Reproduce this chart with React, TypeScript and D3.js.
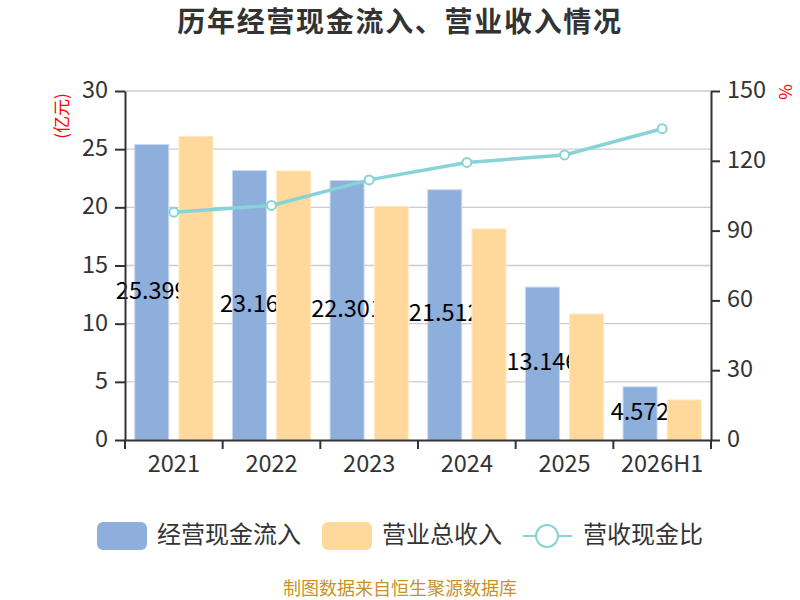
import { useEffect, useRef } from "react";
import * as d3 from "d3";

const years = ["2021", "2022", "2023", "2024", "2025", "2026H1"];
const cashInflow = [25.399, 23.16, 22.301, 21.512, 13.146, 4.572];
const cashLabels = ["25.399", "23.16", "22.301", "21.512", "13.146", "4.572"];
const revenue = [26.1, 23.12, 20.08, 18.15, 10.83, 3.44];
const ratio = [97.9, 100.8, 111.8, 119.3, 122.5, 133.8];
const leftTicks = [0, 5, 10, 15, 20, 25, 30];
const rightTicks = [0, 30, 60, 90, 120, 150];

const FONT = '"Noto Sans CJK SC", "Noto Sans", sans-serif';
const BLUE = "#8eaedb";
const ORANGE = "#ffd99b";
const TEAL = "#86d4d7";

export default function App() {
  const ref = useRef<SVGSVGElement | null>(null);

  useEffect(() => {
    const svg = d3.select(ref.current);
    svg.selectAll("*").remove(); // clear previous renders

    const width = 800;
    const left = 125;
    const right = 711;
    const top = 91;
    const bottom = 440;

    const x = d3.scaleBand().domain(years).range([left, right]).padding(0);
    const inner = d3
      .scaleBand()
      .domain(["cash", "rev"])
      .range([0, x.bandwidth()])
      .paddingInner(0.23)
      .paddingOuter(0.22);
    const y = d3.scaleLinear().domain([0, 30]).range([bottom, top]);
    const y2 = d3.scaleLinear().domain([0, 150]).range([bottom, top]);

    // title
    svg
      .append("text")
      .attr("x", width / 2)
      .attr("y", 24)
      .attr("text-anchor", "middle")
      .attr("dominant-baseline", "middle")
      .attr("font-size", 28)
      .attr("font-weight", "bold")
      .attr("letter-spacing", 1.7)
      .attr("fill", "#333")
      .text("历年经营现金流入、营业收入情况");

    // grid
    svg
      .append("g")
      .selectAll("line")
      .data(leftTicks.slice(1))
      .join("line")
      .attr("x1", left)
      .attr("x2", right)
      .attr("y1", (d) => y(d))
      .attr("y2", (d) => y(d))
      .attr("stroke", "#cccccc")
      .attr("stroke-width", 1.3);

    // blue bars + labels (labels sit under the orange bars)
    const cash = svg.append("g");
    cash
      .selectAll("rect")
      .data(cashInflow)
      .join("rect")
      .attr("x", (_, i) => x(years[i])! + inner("cash")!)
      .attr("y", (d) => y(d))
      .attr("width", inner.bandwidth())
      .attr("height", (d) => bottom - y(d))
      .attr("fill", BLUE)
      .attr("stroke", "#c9d8f0")
      .attr("stroke-width", 1);

    cash
      .selectAll("text")
      .data(cashInflow)
      .join("text")
      .attr("x", (_, i) => x(years[i])! + inner("cash")! + inner.bandwidth() / 2)
      .attr("y", (d) => (y(d) + bottom) / 2)
      .attr("text-anchor", "middle")
      .attr("dominant-baseline", "middle")
      .attr("font-size", 23.5)
      .attr("fill", "#000")
      .text((_, i) => cashLabels[i]);

    svg
      .append("g")
      .selectAll("rect")
      .data(revenue)
      .join("rect")
      .attr("x", (_, i) => x(years[i])! + inner("rev")!)
      .attr("y", (d) => y(d))
      .attr("width", inner.bandwidth())
      .attr("height", (d) => bottom - y(d))
      .attr("fill", ORANGE)
      .attr("stroke", "#ffe9c4")
      .attr("stroke-width", 1);

    // ratio line
    const cx = (i: number) => x(years[i])! + x.bandwidth() / 2;
    const line = d3
      .line<number>()
      .x((_, i) => cx(i))
      .y((d) => y2(d));
    svg
      .append("path")
      .datum(ratio)
      .attr("d", line)
      .attr("fill", "none")
      .attr("stroke", TEAL)
      .attr("stroke-width", 3.5);
    svg
      .append("g")
      .selectAll("circle")
      .data(ratio)
      .join("circle")
      .attr("cx", (_, i) => cx(i))
      .attr("cy", (d) => y2(d))
      .attr("r", 4.5)
      .attr("fill", "#fff")
      .attr("stroke", TEAL)
      .attr("stroke-width", 2);

    // axes
    const axisStyle = (g: d3.Selection<SVGGElement, unknown, null, undefined>) => {
      g.select(".domain").attr("stroke", "#333").attr("stroke-width", 2);
      g.selectAll(".tick line").attr("stroke", "#333").attr("stroke-width", 2);
      g.selectAll(".tick text")
        .attr("fill", "#333")
        .attr("font-size", 23.5)
        .attr("font-family", FONT);
    };

    svg
      .append("g")
      .attr("transform", `translate(${left},0)`)
      .call(
        d3.axisLeft(y).tickValues(leftTicks).tickSize(10).tickSizeOuter(0).tickPadding(7)
      )
      .call(axisStyle)
      .selectAll(".tick text")
      .attr("dy", "0.28em");

    svg
      .append("g")
      .attr("transform", `translate(${right},0)`)
      .call(
        d3.axisRight(y2).tickValues(rightTicks).tickSize(9).tickSizeOuter(0).tickPadding(7)
      )
      .call(axisStyle)
      .selectAll(".tick text")
      .attr("dy", "0.28em");

    const xAxis = svg
      .append("g")
      .attr("transform", `translate(0,${bottom})`)
      .call(d3.axisBottom(x).tickSize(0).tickSizeOuter(0).tickPadding(15))
      .call(axisStyle);
    xAxis
      .selectAll("line.sep")
      .data(d3.range(years.length + 1))
      .join("line")
      .attr("class", "sep")
      .attr("x1", (i) => left + i * x.step())
      .attr("x2", (i) => left + i * x.step())
      .attr("y1", 0)
      .attr("y2", 9)
      .attr("stroke", "#333")
      .attr("stroke-width", 2);

    // units
    svg
      .append("text")
      .attr("transform", "translate(63,116) rotate(-90)")
      .attr("text-anchor", "middle")
      .attr("dominant-baseline", "middle")
      .attr("font-size", 17)
      .attr("fill", "#ff0000")
      .text("(亿元)");
    svg
      .append("text")
      .attr("transform", "translate(787,92) rotate(-90)")
      .attr("text-anchor", "middle")
      .attr("dominant-baseline", "middle")
      .attr("font-size", 17)
      .attr("fill", "#ff0000")
      .text("%");

    // legend
    const legendY = 536;
    const lg = svg.append("g").attr("font-size", 24).attr("fill", "#333");
    lg.append("rect")
      .attr("x", 97)
      .attr("y", legendY - 14)
      .attr("width", 50)
      .attr("height", 28)
      .attr("rx", 6)
      .attr("fill", BLUE);
    lg.append("text")
      .attr("x", 157)
      .attr("y", legendY)
      .attr("dominant-baseline", "middle")
      .text("经营现金流入");
    lg.append("rect")
      .attr("x", 322)
      .attr("y", legendY - 14)
      .attr("width", 50)
      .attr("height", 28)
      .attr("rx", 6)
      .attr("fill", ORANGE);
    lg.append("text")
      .attr("x", 382)
      .attr("y", legendY)
      .attr("dominant-baseline", "middle")
      .text("营业总收入");
    lg.append("line")
      .attr("x1", 523)
      .attr("x2", 572)
      .attr("y1", legendY)
      .attr("y2", legendY)
      .attr("stroke", TEAL)
      .attr("stroke-width", 2);
    lg.append("circle")
      .attr("cx", 547)
      .attr("cy", legendY)
      .attr("r", 11)
      .attr("fill", "#fff")
      .attr("stroke", TEAL)
      .attr("stroke-width", 2);
    lg.append("text")
      .attr("x", 583)
      .attr("y", legendY)
      .attr("dominant-baseline", "middle")
      .text("营收现金比");

    // source
    svg
      .append("text")
      .attr("x", 400)
      .attr("y", 590)
      .attr("text-anchor", "middle")
      .attr("dominant-baseline", "middle")
      .attr("font-size", 18)
      .attr("fill", "#c8922a")
      .text("制图数据来自恒生聚源数据库");
  }, []);

  return (
    <svg
      ref={ref}
      width={800}
      height={600}
      fontFamily={FONT}
      style={{ position: "absolute", left: 0, top: 0, background: "#fff" }}
    />
  );
}
